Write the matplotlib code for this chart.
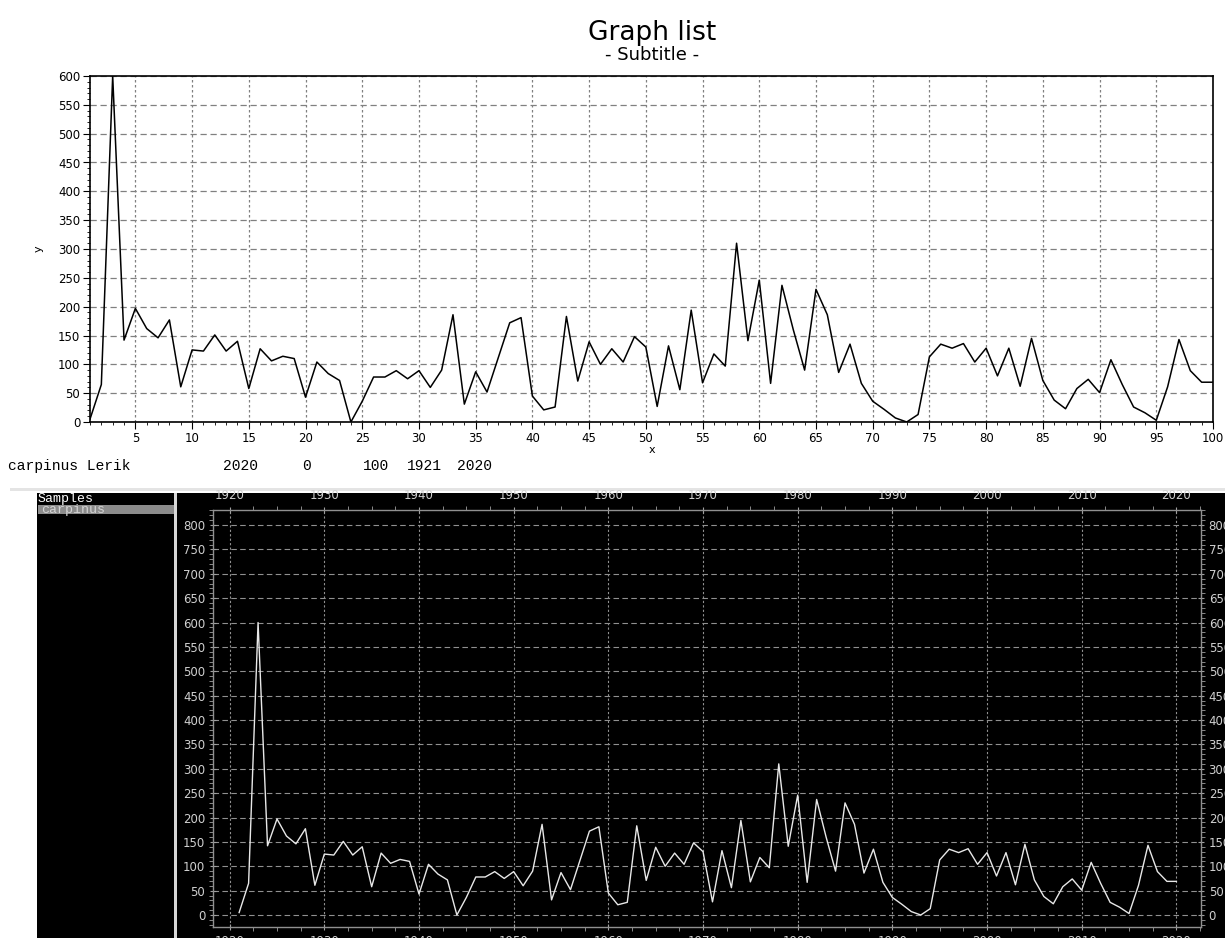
import numpy as np
import matplotlib
matplotlib.use("Agg")
import matplotlib.pyplot as plt
from matplotlib.patches import Rectangle
from matplotlib.ticker import MultipleLocator

# ring values for the sample
values = [5, 65, 600, 142, 197, 162, 146, 177, 61, 125,
          123, 151, 123, 140, 58, 127, 106, 114, 110, 43,
          104, 84, 72, 0, 36, 78, 78, 89, 75, 89,
          60, 90, 186, 31, 87, 52, 112, 172, 181, 45,
          21, 26, 183, 71, 139, 100, 127, 104, 148, 130,
          27, 132, 56, 194, 68, 118, 97, 310, 141, 246,
          67, 237, 160, 90, 230, 186, 86, 135, 67, 36,
          22, 7, 0, 13, 113, 135, 128, 136, 104, 128,
          80, 128, 62, 145, 72, 38, 23, 58, 74, 51,
          108, 65, 26, 16, 3, 61, 143, 89, 69, 69]
index = list(range(1, 101))
years = list(range(1921, 2021))

info_fields = ["carpinus Lerik", "2020", "0", "100", "1921", "2020"]
sidebar_items = ["Samples", "carpinus"]

W, H = 1225, 938
fig = plt.figure(figsize=(W / 100, H / 100), dpi=100)
fig.patch.set_facecolor("white")


def px_axes(l, t, r, b, **kw):
    return fig.add_axes([l / W, 1 - b / H, (r - l) / W, (b - t) / H], **kw)


# background layer in pixel coords
bg = px_axes(0, 0, W, H, zorder=-5)
bg.set_xlim(0, W)
bg.set_ylim(H, 0)
bg.axis("off")
bg.add_patch(Rectangle((10, 488), W - 10, 3, color="#e4e4e4", lw=0))
bg.add_patch(Rectangle((37, 493), W - 37, H - 493, color="black", lw=0))
bg.add_patch(Rectangle((38, 505), 136, 9.5, color="#8c8c8c", lw=0))
bg.add_patch(Rectangle((174, 493), 3, H - 493, color="#d8d8d8", lw=0))
bg.text(38, 499, sidebar_items[0], color="white", fontsize=9.5,
        family="Liberation Mono", va="center")
bg.text(41, 509.5, sidebar_items[1], color="#d4d4d4", fontsize=9.5,
        family="Liberation Mono", va="center")

# info line
info_x = [8, 223, 302, 363, 407, 457]
for xx, s in zip(info_x, info_fields):
    bg.text(xx, 466, s, fontsize=10.5, family="Liberation Mono", va="center")

fig.text(652 / W, 1 - 33 / H, "Graph list", ha="center", va="center",
         fontsize=19, family="DejaVu Sans")
fig.text(652 / W, 1 - 55 / H, "- Subtitle -", ha="center", va="center",
         fontsize=13, family="DejaVu Sans")

# top chart
ax = px_axes(90, 76, 1213, 422)
ax.plot(index, values, color="black", lw=1.1)
ax.set_xlim(1, 100)
ax.set_ylim(0, 600)
ax.xaxis.set_major_locator(MultipleLocator(5))
ax.xaxis.set_minor_locator(MultipleLocator(1))
ax.yaxis.set_major_locator(MultipleLocator(50))
ax.yaxis.set_minor_locator(MultipleLocator(10))
ax.tick_params(which="major", length=5, labelsize=8.5, pad=2)
ax.tick_params(which="minor", length=2.5)
ax.xaxis.grid(True, color="#808080", linestyle=(0, (2, 2)), lw=0.9)
ax.yaxis.grid(True, color="#808080", linestyle=(0, (5, 3)), lw=0.9)
for sp in ax.spines.values():
    sp.set_color("black")
    sp.set_linewidth(1.2)
ax.set_xlabel("x", fontsize=8, labelpad=0)
ax.set_ylabel("y", fontsize=8, labelpad=10)

# bottom chart (dark screenshot), labels run off the edges as in the source
ax2 = px_axes(213, 510, 1201, 927)
ax2.set_facecolor("black")
ax2.plot(years, values, color="#e8e8e8", lw=1.0)
ax2.set_xlim(1918.24, 2022.6)
ax2.set_ylim(-24.6, 830.8)
ax2.xaxis.set_major_locator(MultipleLocator(10))
ax2.xaxis.set_minor_locator(MultipleLocator(2.5))
ax2.yaxis.set_major_locator(MultipleLocator(50))
ax2.yaxis.set_minor_locator(MultipleLocator(10))
ax2.tick_params(which="both", colors="#a0a0a0", labelcolor="#d0d0d0",
                labelsize=8.5, top=True, right=True,
                labeltop=True, labelright=True)
ax2.tick_params(which="major", length=5, pad=3, direction="inout")
ax2.tick_params(which="minor", length=3)
ax2.xaxis.grid(True, color="#909090", linestyle=(0, (2, 2)), lw=0.8)
ax2.yaxis.grid(True, color="#909090", linestyle=(0, (5, 3)), lw=0.8)
for sp in ax2.spines.values():
    sp.set_color("#909090")
    sp.set_linewidth(1.0)

fig.savefig("out.png", dpi=100, facecolor="white")
